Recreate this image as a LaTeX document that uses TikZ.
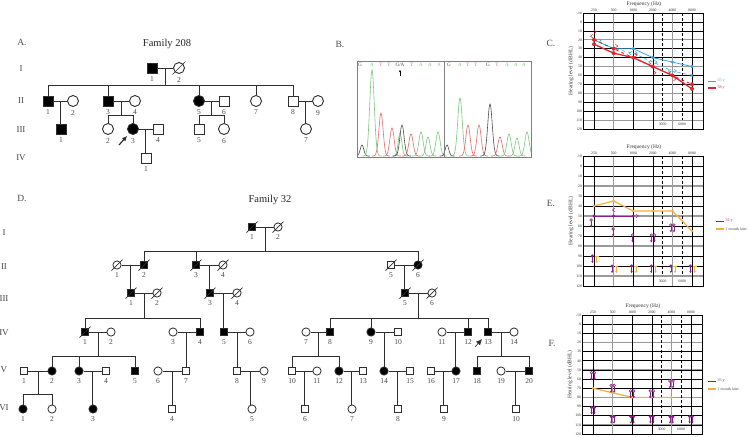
\documentclass[tikz,border=0pt]{standalone}
\usepackage{fontspec}
\setmainfont{Liberation Serif}
\usetikzlibrary{calc,arrows.meta}
\definecolor{txt}{HTML}{4A4A4A}
\definecolor{pl}{HTML}{2E2E2E}
\definecolor{cblue}{HTML}{3AA6DD}
\definecolor{cred}{HTML}{E1262D}
\definecolor{cpur}{HTML}{8C1C8A}
\definecolor{corg}{HTML}{F3B13C}
\definecolor{bG}{HTML}{4D4D4D}
\definecolor{bA}{HTML}{7DC47D}
\definecolor{bT}{HTML}{E46A6A}
\definecolor{gridgray}{HTML}{9A9A9A}
\tikzset{
 ln/.style={draw=pl, line width=0.9pt},
 mA/.style={rectangle, draw=pl, line width=0.9pt, fill=white, minimum size=10pt, inner sep=0pt},
 fA/.style={circle, draw=pl, line width=0.9pt, fill=white, minimum size=11pt, inner sep=0pt},
 mD/.style={rectangle, draw=pl, line width=0.8pt, fill=white, minimum size=7.6pt, inner sep=0pt},
 fD/.style={circle, draw=pl, line width=0.8pt, fill=white, minimum size=8.2pt, inner sep=0pt},
 aff/.style={fill=black},
 nl/.style={font=\fontsize{7.5}{8}\selectfont, text=txt, inner sep=0.3pt},
 gen/.style={font=\fontsize{9}{10}\selectfont, text=txt},
 panel/.style={font=\fontsize{9.5}{11}\selectfont, text=txt},
 ttl/.style={font=\fontsize{10.5}{12}\selectfont, text=black!85},
 base/.style={font=\fontsize{5.2}{6}\selectfont, inner sep=0pt},
 tick/.style={font=\fontsize{3.8}{4}\selectfont, inner sep=0.8pt, text=black!80},
 axl/.style={font=\fontsize{5.5}{6}\selectfont, inner sep=0pt, text=black!80},
 leg/.style={font=\fontsize{4}{5}\selectfont, inner sep=0.5pt, anchor=west},
 gline/.style={draw=black, line width=0.55pt},
 gthick/.style={draw=gridgray, line width=1.1pt},
}
\newcommand\ind[5]{\node[#1, label={[nl]below:#5}] (#2) at (#3,#4) {};}
\newcommand\dec[2][5.5]{\draw[ln, line width=0.7pt] ($(#2.center)+(-#1,#1)$) -- ($(#2.center)+(#1,-#1)$);}
\newcommand\cpl[3]{\draw[ln] (#1) -- (#2); \coordinate (#3) at ($(#1)!0.5!(#2)$);}
\newcommand\one[2]{\draw[ln] (#1) -- (#1 |- #2.north);}
\newcommand\sibb[4]{\coordinate (sy) at (0,#2); \draw[ln] (#1) -- (#1 |- sy); \draw[ln] (#3.north) -- (#3 |- sy) -- (#4 |- sy) -- (#4.north);}
\newcommand\sib[5]{\sibb{#1}{#2}{#3}{#4}\foreach \c in {#5} {\draw[ln] (\c.north) -- (\c |- sy);}}
\newcommand\pk[4]{\pgfmathsetmacro\pa{#2-3*#4}\pgfmathsetmacro\pb{#2+3*#4}\draw[#1, line width=0.6pt] plot[domain=\pa:\pb, samples=31, smooth] (\x,{156-#3*exp(-((\x-#2)/#4)*((\x-#2)/#4))});}
\newcommand\audgrid[1]{%
 \foreach \d in {0,10,...,110} {\draw[gline] (-0.561,\d) -- (5.561,\d);}
 \foreach \d in {20,50,80,110} {\draw[gthick] (-0.561,\d) -- (5.561,\d);}
 \foreach \k in {0,2,3,5} {\draw[gline] (\k,-10) -- (\k,120);}
 \foreach \k in {1,4} {\draw[gthick] (\k,-10) -- (\k,120);}
 \draw[gline, dash pattern=on 3pt off 2pt] (3.5,-10) -- (3.5,110);
 \draw[gline, dash pattern=on 3pt off 2pt] (4.5,-10) -- (4.5,110);
 \draw[line width=0.9pt] (-0.561,-10) rectangle (5.561,120);
 \foreach \d [count=\i] in {-10,0,...,120} {\node[tick, anchor=east] (#1y\i) at (-0.561,\d) {\d};}
 \foreach \k/\f [count=\i] in {0/250,1/500,2/1000,3/2000,4/4000,5/8000} {\node[tick, anchor=south] (#1x\i) at (\k,-10) {\f};}
 \node[tick] (#1a) at (3.5,115) {3000};
 \node[tick] (#1b) at (4.5,115) {6000};
 \node[axl, yshift=9pt] (#1f) at (2.55,-10) {Frequency (Hz)};
 \node[axl, rotate=90] (#1h) at ($(-0.561,55)+(-12pt,0pt)$) {Hearing level (dBHL)};
}
\newcommand\chR[3]{\draw[#1, line width=0.5pt] ($(#2,#3)+(-1.2pt,1.8pt)$) -- ++(2.4pt,-1.8pt) -- ++(-2.4pt,-1.8pt);}
\newcommand\chL[3]{\draw[#1, line width=0.5pt] ($(#2,#3)+(1.2pt,1.8pt)$) -- ++(-2.4pt,-1.8pt) -- ++(2.4pt,-1.8pt);}
\newcommand\nrd[3]{\draw[#1, line width=0.6pt, -{Stealth[length=2.2pt,width=2.4pt]}] (#2,#3) -- ++(0pt,-7pt); \fill[#1] (#2,#3) circle[radius=1.7pt];}
\newcommand\nrb[3]{\draw[#1, line width=0.9pt] ($(#2,#3)+(-1.8pt,0pt)$) -- ++(3.6pt,0pt); \draw[#1, line width=0.6pt, -{Stealth[length=2.2pt,width=2.4pt]}] (#2,#3) -- ++(0pt,-7pt);}
\newcommand\nro[3]{\draw[#1, line width=0.6pt] (#2,#3) circle[radius=1.3pt]; \draw[#1, line width=0.6pt, -{Stealth[length=2.2pt,width=2.4pt]}] ($(#2,#3)+(0pt,-1.3pt)$) -- ++(0pt,-6pt);}
\begin{document}
\begin{tikzpicture}[x=1pt, y=-1pt, label distance=2.6pt]
\useasboundingbox (0,0) rectangle (748,437);
\fill[white] (0,0) rectangle (748,437);
% ---------------- panel letters / titles
\node[panel] (lA) at (22,42) {A.};
\node[panel] (lB) at (340,44) {B.};
\node[panel] (lC) at (551,43) {C.};
\node[panel] (lD) at (22,198) {D.};
\node[panel] (lE) at (551,203) {E.};
\node[panel] (lF) at (552,343) {F.};
\node[ttl] (tA) at (167,44) {Family 208};
\node[ttl] (tD) at (270,200) {Family 32};
% ---------------- Family 208
\node[gen] (gA1) at (21,69) {I};
\node[gen] (gA2) at (21,101) {II};
\node[gen] (gA3) at (21,130) {III};
\node[gen] (gA4) at (21,158) {IV};
\ind{mA,aff}{A11}{152}{68}{1}
\ind{fA}{A12}{179}{68}{2}
\ind{mA,aff}{A21}{48}{101}{1}
\ind{fA}{A22}{73}{101}{2}
\ind{mA,aff}{A23}{108}{101}{3}
\ind{fA}{A24}{135}{101}{4}
\ind{fA,aff}{A25}{199}{101}{5}
\ind{mA}{A26}{224}{101}{6}
\ind{fA}{A27}{256}{101}{7}
\ind{mA}{A28}{293}{101}{8}
\ind{fA}{A29}{318}{101}{9}
\ind{mA,aff}{A31}{61}{129}{1}
\ind{fA}{A32}{108}{129}{2}
\ind{fA,aff}{A33}{133}{129}{3}
\ind{mA}{A34}{158}{129}{4}
\ind{mA}{A35}{199}{129}{5}
\ind{fA}{A36}{224}{129}{6}
\ind{fA}{A37}{306}{129}{7}
\ind{mA}{A41}{146}{158}{1}
\dec[6.5]{A12}
\cpl{A11}{A12}{mA1}
\sib{mA1}{85}{A21}{A28}{A23,A25,A27}
\cpl{A21}{A22}{mA2} \one{mA2}{A31}
\cpl{A23}{A24}{mA3} \sibb{mA3}{115}{A32}{A33}
\cpl{A25}{A26}{mA4} \sibb{mA4}{115}{A35}{A36}
\cpl{A28}{A29}{mA5} \one{mA5}{A37}
\cpl{A33}{A34}{mA6} \one{mA6}{A41}
\draw[pl, line width=1.2pt, -{Latex[length=5pt,width=5pt]}] ($(A33)+(-14,16)$) -- ($(A33)+(-6,7)$);
% ---------------- Family 32
\node[gen] (gD1) at (4,233) {I};
\node[gen] (gD2) at (4,267) {II};
\node[gen] (gD3) at (4,299) {III};
\node[gen] (gD4) at (4,333) {IV};
\node[gen] (gD5) at (4,370) {V};
\node[gen] (gD6) at (4,408) {VI};
\ind{mD,aff}{D11}{252}{227}{1}
\ind{fD}{D12}{278}{227}{2}
\ind{fD}{D21}{117}{265}{1}
\ind{mD,aff}{D22}{144}{265}{2}
\ind{mD,aff}{D23}{196}{265}{3}
\ind{fD}{D24}{223}{265}{4}
\ind{mD}{D25}{391}{265}{5}
\ind{fD,aff}{D26}{418}{265}{6}
\ind{mD,aff}{D31}{131}{293}{1}
\ind{fD}{D32}{157}{293}{2}
\ind{mD,aff}{D33}{210}{293}{3}
\ind{fD}{D34}{237}{293}{4}
\ind{mD,aff}{D35}{405}{293}{5}
\ind{fD}{D36}{432}{293}{6}
\ind{mD,aff}{D41}{85}{332}{1}
\ind{fD}{D42}{111}{332}{2}
\ind{fD}{D43}{173}{332}{3}
\ind{mD,aff}{D44}{200}{332}{4}
\ind{mD,aff}{D45}{224}{332}{5}
\ind{fD}{D46}{250}{332}{6}
\ind{fD}{D47}{306}{332}{7}
\ind{mD,aff}{D48}{330}{332}{8}
\ind{fD,aff}{D49}{371}{332}{9}
\ind{mD}{D410}{398}{332}{10}
\ind{fD}{D411}{442}{332}{11}
\ind{mD,aff}{D412}{468}{332}{12}
\ind{mD,aff}{D413}{488}{332}{13}
\ind{fD}{D414}{514}{332}{14}
\ind{mD}{D51}{24}{371}{1}
\ind{fD,aff}{D52}{52}{371}{2}
\ind{fD,aff}{D53}{79}{371}{3}
\ind{mD}{D54}{106}{371}{4}
\ind{mD,aff}{D55}{135}{371}{5}
\ind{fD}{D56}{158}{371}{6}
\ind{mD}{D57}{186}{371}{7}
\ind{mD}{D58}{237}{371}{8}
\ind{fD}{D59}{264}{371}{9}
\ind{mD}{D510}{292}{371}{10}
\ind{fD}{D511}{317}{371}{11}
\ind{fD,aff}{D512}{339}{371}{12}
\ind{mD}{D513}{363}{371}{13}
\ind{fD,aff}{D514}{384}{371}{14}
\ind{mD}{D515}{410}{371}{15}
\ind{mD}{D516}{431}{371}{16}
\ind{fD,aff}{D517}{456}{371}{17}
\ind{mD,aff}{D518}{477}{371}{18}
\ind{fD}{D519}{501}{371}{19}
\ind{mD,aff}{D520}{529}{371}{20}
\ind{fD,aff}{D61}{23}{409}{1}
\ind{fD}{D62}{52}{409}{2}
\ind{fD,aff}{D63}{93}{409}{3}
\ind{mD}{D64}{172}{409}{4}
\ind{fD}{D65}{252}{409}{5}
\ind{mD}{D66}{305}{409}{6}
\ind{fD}{D67}{352}{409}{7}
\ind{mD}{D68}{398}{409}{8}
\ind{mD}{D69}{444}{409}{9}
\ind{mD}{D610}{516}{409}{10}
\foreach \n in {D11,D12,D21,D22,D23,D24,D25,D26,D31,D32,D33,D34,D35,D36,D41} {\dec{\n}}
\cpl{D11}{D12}{mD1} \sib{mD1}{251}{D22}{D26}{D23}
\cpl{D21}{D22}{mD2} \one{mD2}{D31}
\cpl{D23}{D24}{mD3} \one{mD3}{D33}
\cpl{D25}{D26}{mD4} \one{mD4}{D35}
\cpl{D31}{D32}{mD5} \sibb{mD5}{318}{D41}{D44}
\cpl{D33}{D34}{mD6} \one{mD6}{D45}
\cpl{D35}{D36}{mD7} \sib{mD7}{318}{D48}{D413}{D49,D412}
\cpl{D41}{D42}{mD8} \sib{mD8}{356}{D52}{D55}{D53}
\cpl{D43}{D44}{mD9} \one{mD9}{D57}
\cpl{D45}{D46}{mD10} \one{mD10}{D58}
\cpl{D47}{D48}{mD11} \sibb{mD11}{356}{D510}{D512}
\cpl{D49}{D410}{mD12} \one{mD12}{D514}
\cpl{D411}{D412}{mD13} \one{mD13}{D517}
\cpl{D413}{D414}{mD14} \sibb{mD14}{356}{D518}{D520}
\cpl{D51}{D52}{mD15} \sibb{mD15}{394}{D61}{D62}
\cpl{D53}{D54}{mD16} \one{mD16}{D63}
\cpl{D56}{D57}{mD17} \one{mD17}{D64}
\cpl{D58}{D59}{mD18} \one{mD18}{D65}
\cpl{D510}{D511}{mD19} \one{mD19}{D66}
\cpl{D512}{D513}{mD20} \one{mD20}{D67}
\cpl{D514}{D515}{mD21} \one{mD21}{D68}
\cpl{D516}{D517}{mD22} \one{mD22}{D69}
\cpl{D519}{D520}{mD23} \one{mD23}{D610}
\draw[pl, line width=0.6pt, -{Latex[length=6pt,width=5.5pt]}] ($(D413)+(-13,15)$) -- ($(D413)+(-6,7)$);
% ---------------- panel B chromatogram
\begin{scope}
\clip (357,61) rectangle (531,157);
\pk{bG}{362}{11}{2.5} \pk{bA}{372}{86}{3.2} \pk{bT}{381}{43}{3} \pk{bT}{392}{28}{3}
\pk{bA}{400}{23}{2.6} \pk{bG}{402}{31}{3} \pk{bT}{411}{22}{3} \pk{bA}{421}{24}{3}
\pk{bA}{428}{19}{2.8} \pk{bA}{438}{24}{3}
\pk{bG}{447}{11}{2.5} \pk{bA}{460}{58}{3.2} \pk{bT}{468}{31}{3} \pk{bT}{479}{31}{3}
\pk{bG}{490}{52}{3.2} \pk{bT}{500}{19}{3} \pk{bA}{509}{22}{3} \pk{bA}{517}{18}{2.8}
\pk{bA}{527}{24}{3}
\end{scope}
\draw[gray, line width=0.6pt] (357,61) rectangle (531,157);
\draw[gray, line width=0.6pt] (444,61) -- (444,157);
\foreach \xx/\c/\l [count=\i] in {360/bG/G,372/bA/A,381/bT/T,389/bT/T,400/bG/{G/A},412/bT/T,421/bA/A,430/bA/A,439/bA/A,449/bG/G,460/bA/A,468/bT/T,476/bT/T,488/bG/G,497/bT/T,507/bA/A,516/bA/A,524/bA/A}
 {\node[base, text=\c] (bs\i) at (\xx,64.8) {\l};}
\draw[black, line width=0.6pt, -{Stealth[length=2.5pt,width=2.2pt]}] ($(bs5.south)+(0,9)$) -- ($(bs5.south)+(0,3)$);
% ---------------- panel C
\begin{scope}[shift={(594,21.92)}, x=19.6pt, y=-0.8923pt]
\audgrid{C}
\draw[cblue, line width=0.6pt, dashed] (0,20) -- (1,30) -- (2,35) -- (3,45) -- (4,55) -- (5,60);
\draw[cblue, line width=0.8pt] (0,20) -- (1,30) -- (2,30) -- (3,40) -- (4,45) -- (5,50);
\foreach \k/\d in {0/20,1/30,2/30,3/40,4/45,5/50} {\fill[cblue] (\k,\d) circle[radius=1.8pt];}
\draw[cblue, line width=0.6pt] ($(5,60)+(-1.6pt,1.6pt)$) -- ++(3.2pt,-3.2pt) ($(5,60)+(-1.6pt,-1.6pt)$) -- ++(3.2pt,3.2pt);
\chR{cblue}{0.3}{21} \chL{cblue}{1.85}{35} \chR{cblue}{2.15}{35} \chL{cblue}{2.85}{45} \chR{cblue}{3.15}{45} \chL{cblue}{3.85}{55} \chR{cblue}{4.15}{55}
\draw[cred, line width=0.8pt, dashed] (0,20) -- (1,30) -- (2,40) -- (3,50) -- (4,60) -- (5,70);
\draw[cred, line width=1.3pt] (0,25) -- (1,35) -- (2,40) -- (3,50) -- (4,60) -- (5,75);
\foreach \k/\d in {0/20,0/25,1/35,1/30,2/40,3/50,4/60,5/75,5/70} {\fill[cred] (\k,\d) circle[radius=2pt];}
\chR{cred}{0.05}{11} \chL{cred}{-0.12}{16} \chR{cred}{1.15}{27} \chR{cred}{2.15}{37} \chL{cred}{2.85}{48} \chR{cred}{3.1}{57} \chL{cred}{3.88}{57} \chR{cred}{4.12}{64}
\end{scope}
\draw[cblue, line width=1pt] (708,81) -- (716,81); \node[leg, text=cblue] (Cl1) at (717,81) {35 y};
\draw[cred, line width=1.3pt] (708,88) -- (716,88); \node[leg, text=cred] (Cl2) at (717,88) {38 y};
% ---------------- panel E
\begin{scope}[shift={(594,166)}, x=19.6pt, y=-1pt]
\audgrid{E}
\draw[corg, line width=1.2pt] (0,40) -- (1,35) -- (2,45) -- (3,45) -- (4,45) -- (5,65);
\foreach \k/\d in {0/40,1/35,2/45,3/45,4/45,5/65} {\fill[corg] (\k,\d) circle[radius=1.4pt];}
\draw[cpur, line width=0.9pt] (0,50) -- (2,50);
\foreach \k in {0,1,2} {\fill[cpur] (\k,50) circle[radius=1.7pt];}
\chR{cpur}{2.2}{50} \chL{cpur}{1}{44}
\nro{cpur}{-0.15}{54} \nro{cpur}{0.98}{63} \nro{cpur}{1.97}{69} \nro{cpur}{2.92}{69} \nro{cpur}{3.08}{69} \nro{cpur}{3.92}{59} \nro{cpur}{4.08}{59}
\nrd{cpur}{-0.08}{90} \nrb{corg}{0.14}{90}
\foreach \k in {1,...,5} {\nrd{cpur}{\k-0.08}{100} \nrb{corg}{\k+0.14}{100}}
\end{scope}
\draw[cpur, line width=1pt] (716,221) -- (724,221); \node[leg, text=cpur] (El1) at (725,221) {32 y};
\draw[corg, line width=1.2pt] (716,229) -- (724,229); \node[leg, text=black!70] (El2) at (725,229) {1 month later};
% ---------------- panel F
\begin{scope}[shift={(593,324.15)}, x=19.6pt, y=-0.9154pt]
\audgrid{F}
\draw[corg, line width=1.2pt] (0,70) -- (1,75) -- (2,80) -- (3,80) -- (4,80);
\foreach \k/\d in {0/70,1/75,2/80,3/80,4/80} {\fill[corg] (\k,\d) circle[radius=1.4pt];}
\foreach \k/\d in {0/53,1/67,2/73,3/73,4/62} {\nro{cpur}{\k-0.08}{\d} \nro{cpur}{\k+0.08}{\d}}
\nrd{cpur}{-0.07}{91} \nrd{cpur}{0.07}{91}
\foreach \k in {1,...,5} {\nrd{cpur}{\k-0.07}{101} \nrd{cpur}{\k+0.07}{101}}
\end{scope}
\draw[cpur, line width=1pt] (708,381) -- (716,381); \node[leg, text=cpur] (Fl1) at (717,381) {35 y};
\draw[corg, line width=1.2pt] (708,389) -- (716,389); \node[leg, text=black!70] (Fl2) at (717,389) {1 month later};
\end{tikzpicture}
\end{document}
